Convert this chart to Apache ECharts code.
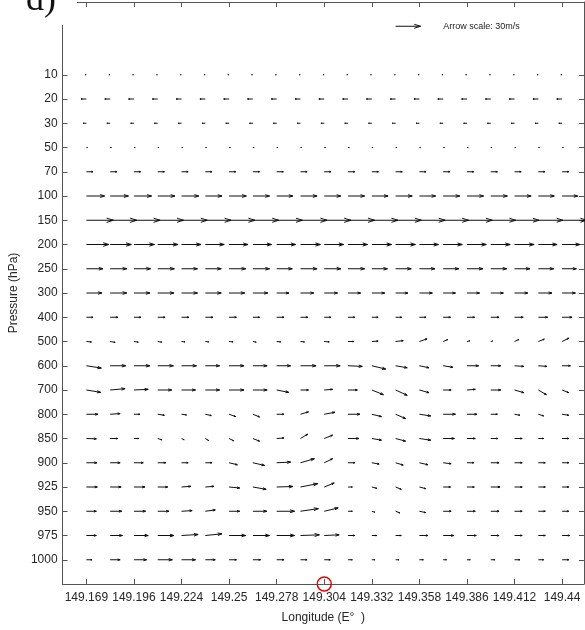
<!DOCTYPE html>
<html><head><meta charset="utf-8">
<script src="https://cdn.jsdelivr.net/npm/echarts@6/dist/echarts.min.js"></script>
<style>html,body{margin:0;padding:0;background:#fff}#c{width:585px;height:630px}</style>
</head><body><div id="c"></div>
<script>
// Pressure levels, top (10 hPa) to bottom (1000 hPa)
const levels = ['10','20','30','50','70','100','150','200','250','300','400','500','600','700','800','850','900','925','950','975','1000'];
// Longitude tick labels (every second grid column)
const lonTicks = ['149.169','149.196','149.224','149.25','149.278','149.304','149.332','149.358','149.386','149.412','149.44'];
// Zonal wind u (m/s), one row per level, one value per grid column
const U = [
  [-1.5,-1.5,-1.5,-1.5,-1.5,-1.5,-1.5,-1.5,-1.5,-1.5,-1.5,-1.5,-1.5,-1.5,-1.5,-1.5,-1.5,-1.5,-1.5,-1.5,-1.5],
  [-6.5,-6.5,-6.5,-6.5,-6.5,-6.5,-6.5,-6.5,-6.5,-6.5,-6.5,-6.5,-6.5,-6.5,-6.5,-6.5,-6.5,-6.5,-6.5,-6.5,-6.5],
  [-4,-4,-4,-4,-4,-4,-4,-4,-4,-4,-4,-4,-4,-4,-4,-4,-4,-4,-4,-4,-4],
  [1.5,1.5,1.5,1.5,1.5,1.5,1.5,1.5,1.5,1.5,1.5,1.5,1.5,1.5,1.5,1.5,1.5,1.5,1.5,1.5,1.5],
  [8,8,8,8,8,8,8,8,8,8,8,8,8,8,8,8,8,8,8,8,8],
  [22,22,21.2,20.8,20.8,20,20.8,20,19.6,20,20,20,19.6,20,19.6,20,20,20,20,19.2,18.8],
  [32.5,32,31.5,31,31,31,31,31,31,32,32,32,31.5,31,31,30.5,30.5,30,29.5,29.5,29.5],
  [27,25.5,24.7,24.5,23.5,22.8,22.8,22.5,23,24,23.4,23.5,23.8,23.9,22.9,23,23.3,23.4,23.6,22.6,21.6],
  [20,20,20,20,19.2,19.2,20,20,18.8,20,20,20,18.8,18.8,18.8,18.8,19.2,19.2,18.4,18.4,17.2],
  [18.8,20,19.2,19.6,19.2,19.2,18.8,18,14.8,16,16,15.2,15.6,14.8,15.6,14.8,15.2,15.2,16,16.4,16],
  [8,9.2,8.4,8.8,8.8,9.2,8.8,8,8.8,8.8,8,8,7.6,7.2,8,8.8,9.2,10,10.4,11.2,12],
  [6,6,5.2,4.8,4,4,4.8,4,4.8,4.8,6,7.2,7.6,9.2,9.2,5.6,3.6,2.4,5.2,7.2,8],
  [18,18.8,19.2,18.8,18,17.2,18,17.2,16.8,18.8,19.2,17.2,16.8,14,11.6,11.6,14,12,11.2,10.4,10],
  [17.2,18,17.2,16.8,16.8,17.2,18,17.2,14.4,9.6,10,11.2,14,14,11.6,9.6,10,12,11.2,9.6,8],
  [14,12,7.2,8,6,7.2,8,8,8.8,9.6,12.8,14.4,11.6,12,13.6,14.8,12,8,6.4,6.4,8],
  [12,9.2,6,4.8,3.2,4,5.6,8,8.8,8.8,10,13.2,11.6,12,13.6,13.6,10,8.8,9.2,6.4,8],
  [12.8,12,11.2,9.6,8,8,10,14,16.8,16.8,10,8,8.8,9.2,10.4,9.6,8,10,9.2,8.4,8],
  [13.2,13.2,13.2,12,11.2,10.4,12.8,16,19.6,20.8,12,5.2,6,6.8,7.6,8.8,8.8,11.2,9.2,8.4,8],
  [12,14,14,13.6,12.8,12,12.8,16.8,21.6,21.6,16.8,5.2,3.6,5.2,7.6,9.6,10,10,9.2,8.4,8],
  [12,14.8,17.2,19.6,20,20,20,20,21.6,22.8,18,8,6,6.8,10.4,12.8,11.2,10,9.2,8.4,9.2],
  [6.8,12,15.2,17.6,16.8,12,8.8,9.2,8.8,8,7.2,5.2,3.6,4,4.8,4,4,4.8,6.4,6.4,8]
];
// Meridional wind v (m/s), same layout
const Z = [0,0,0,0,0,0,0,0,0,0,0,0,0,0,0,0,0,0,0,0,0];
const V = [
  Z, Z, Z, Z, Z, Z, Z, Z, Z, Z, Z,
  [-0.5,-1,-0.8,-0.8,-0.5,-0.5,-0.5,-0.8,-0.5,-0.5,-0.5,0,0.5,1,3.2,2.4,0.8,0.6,2.4,2.8,4],
  [-2.8,0,0,0,0,0,0,0,0,0,0,-0.8,-4,-2.4,-2.4,-1.8,0,0,-0.8,-0.8,0],
  [-2.8,1.6,0.8,0,0,0,0,0,-2.8,0,0.8,0,-5.6,-6.4,-3.2,0,0.8,0,-3.2,-5.6,-3.2],
  [0,0.8,0,-1.2,-0.8,-1.6,-2.8,-3.2,0,2.8,2.4,0,-2.8,-5.2,-2,0,0,0,-1.2,-2,-1.2],
  [-0.4,0,0,-1.6,-1.6,-2.4,-2.8,-3.2,0.6,5.2,4,0,-2,-3.2,-2,0,0,0,0,0,0],
  [0,0,0,0,0,0,-2.4,-3.2,0.8,4.8,4.8,0,-1.6,-2.8,-2.4,-1.2,0,0,0,0,0],
  [0,0,0,0,0.8,0.8,-1.2,-2.8,0.6,4,4.8,0,-1.6,-2.8,-2,0,0,0,0,0,0],
  [0,0,0,0,0.8,1.6,0,0,0,3.2,4,0,-1.2,-2,-1.6,0,0,0,0,0,0],
  [0,0,0,0,1.2,2,0,0,0,0.8,0.8,0,0,0,0,0,0,0,0,0,0],
  Z
];
const refSpeed = 30; // arrow scale legend (m/s)
const refLabel = 'Arrow scale: 30m/s';

const SU = 0.0349, SV = 0.0344; // axis units per m/s
const HEAD_LEN = 0.25, HEAD_W = 0.08;
const ARROW_COLOR = '#111';
const FONT = "'Liberation Sans', Arial, Helvetica, sans-serif";

const nL = levels.length;
const data = [];
U.forEach((row, r) => row.forEach((u, c) => data.push([c, nL - 1 - r, u, V[r][c]])));

function arrow(p0, p1, lw) {
  const dx = p1[0] - p0[0], dy = p1[1] - p0[1];
  const L = Math.hypot(dx, dy);
  if (L < 0.01) return [];
  const ux = dx / L, uy = dy / L;
  const hl = HEAD_LEN * L, hw = HEAD_W * L;
  const b = [p1[0] - ux * hl, p1[1] - uy * hl];
  const h1 = [b[0] - uy * hw, b[1] + ux * hw];
  const h2 = [b[0] + uy * hw, b[1] - ux * hw];
  return [
    {type: 'line', shape: {x1: p0[0], y1: p0[1], x2: p1[0], y2: p1[1]}, style: {stroke: ARROW_COLOR, lineWidth: lw}},
    {type: 'polyline', shape: {points: [h1, p1, h2]}, style: {stroke: ARROW_COLOR, fill: null, lineWidth: lw}}
  ];
}

const colTicks = lonTicks.map((_, i) => i * 2);
const rowTicks = levels.map((_, i) => i);

const chart = echarts.init(document.getElementById('c'), null, {renderer: 'canvas'});
chart.setOption({
  animation: false,
  backgroundColor: '#fff',
  grid: {left: 61, right: 1, top: 2, bottom: 46, containLabel: false},
  xAxis: [{
    type: 'value', min: -1, max: 20.92, position: 'bottom',
    axisLine: {show: true, onZero: false, lineStyle: {color: '#555', width: 1}},
    axisTick: {show: true, inside: true, length: 5, customValues: colTicks, lineStyle: {color: '#555'}},
    axisLabel: {show: true, customValues: colTicks, formatter: v => lonTicks[Math.round(v / 2)], fontSize: 12, color: '#262626', fontFamily: FONT, margin: 8},
    splitLine: {show: false},
    name: 'Longitude (E°  )', nameLocation: 'middle', nameGap: 28,
    nameTextStyle: {fontSize: 12, color: '#262626', fontFamily: FONT}
  }, {
    type: 'value', min: -1, max: 20.92, position: 'top',
    axisLine: {show: true, onZero: false, lineStyle: {color: '#555', width: 1}},
    axisTick: {show: true, inside: true, length: 5, customValues: colTicks, lineStyle: {color: '#555'}},
    axisLabel: {show: false}, splitLine: {show: false}
  }],
  yAxis: [{
    type: 'value', min: -1, max: 23, position: 'left',
    axisLine: {show: true, onZero: false, lineStyle: {color: '#555', width: 1}},
    axisTick: {show: true, inside: true, length: 5, customValues: rowTicks, lineStyle: {color: '#555'}},
    axisLabel: {show: true, customValues: rowTicks, formatter: v => levels[nL - 1 - Math.round(v)], fontSize: 12, color: '#262626', fontFamily: FONT, margin: 5},
    splitLine: {show: false},
    name: 'Pressure (hPa)', nameLocation: 'middle', nameGap: 32, nameRotate: 90,
    nameTextStyle: {fontSize: 12, color: '#262626', fontFamily: FONT}
  }, {
    type: 'value', min: -1, max: 23, position: 'right',
    axisLine: {show: true, onZero: false, lineStyle: {color: '#555', width: 1}},
    axisTick: {show: true, inside: true, length: 5, customValues: rowTicks, lineStyle: {color: '#555'}},
    axisLabel: {show: false}, splitLine: {show: false}
  }],
  series: [{
    type: 'custom', xAxisIndex: 0, yAxisIndex: 0, clip: true,
    data: data,
    renderItem: (params, api) => {
      const x = api.value(0), y = api.value(1), u = api.value(2), v = api.value(3);
      const p0 = api.coord([x, y]);
      const p1 = api.coord([x + u * SU, y + v * SV]);
      return {type: 'group', children: arrow(p0, p1, 1)};
    }
  }, {
    // arrow scale legend
    type: 'custom', xAxisIndex: 0, yAxisIndex: 0, clip: false,
    data: [[13, 22, refSpeed, 0]],
    renderItem: (params, api) => {
      const x = api.value(0), y = api.value(1), u = api.value(2);
      const p0 = api.coord([x, y]);
      const p1 = api.coord([x + u * SU, y]);
      const pt = api.coord([x + 2, y]);
      const ch = arrow(p0, p1, 1);
      ch.push({type: 'text', x: pt[0], y: pt[1], style: {text: refLabel, fontSize: 9, fontFamily: FONT, fill: '#222', verticalAlign: 'middle', align: 'left'}});
      return {type: 'group', children: ch};
    }
  }, {
    // red marker circle on the axis
    type: 'custom', xAxisIndex: 0, yAxisIndex: 0, clip: false, z: 5,
    data: [[10, -1]],
    renderItem: (params, api) => {
      const p = api.coord([api.value(0), api.value(1)]);
      return {type: 'circle', shape: {cx: p[0], cy: p[1], r: 7}, style: {stroke: '#e00', fill: null, lineWidth: 1.5}};
    }
  }],
  graphic: [
    {type: 'rect', left: 0, top: 0, shape: {width: 77, height: 25}, style: {fill: '#fff'}, z: 100},
    {type: 'text', x: 26, y: 19, z: 101, style: {text: 'd)', fontSize: 36, fontFamily: "'Liberation Serif', 'DejaVu Serif', serif", fill: '#111', verticalAlign: 'bottom'}}
  ]
});
</script></body></html>
